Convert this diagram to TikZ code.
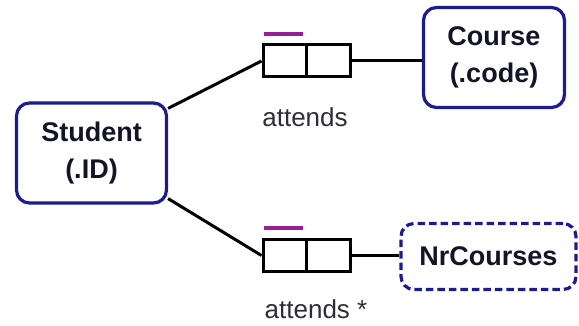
\documentclass[tikz,border=0pt]{standalone}
\usepackage{fontspec}
\setmainfont{Liberation Sans}
\begin{document}
\begin{tikzpicture}[x=1pt,y=-1pt,
  entity/.style={draw=entblue, line width=3.2pt, rounded corners=13pt, fill=white,
    align=center, font=\fontsize{27}{37}\selectfont\bfseries, text=entink, inner sep=0pt},
  derived/.style={entity, dashed, dash pattern=on 7.5pt off 4pt},
  relbox/.style={draw=black, line width=3pt, fill=white, minimum width=87pt, minimum height=32pt, inner sep=0pt},
  link/.style={draw=black, line width=3pt},
  bar/.style={draw=barpurple, line width=3.4pt},
  lbl/.style={font=\fontsize{26}{30}\selectfont, text=lblink, inner sep=0pt}]
\definecolor{entblue}{RGB}{28,28,140}
\definecolor{entink}{RGB}{20,20,40}
\definecolor{lblink}{RGB}{45,45,55}
\definecolor{barpurple}{RGB}{150,30,150}
\useasboundingbox (0,0) rectangle (579,326);

% entities
\node[entity, minimum width=150pt, minimum height=100pt] (stu) at (91.5,153) {Student\\(.ID)};
\node[entity, minimum width=141pt, minimum height=100pt] (crs) at (494,57.5) {Course\\(.code)};
\node[derived, minimum width=175pt, minimum height=66pt] (nrc) at (488.5,256.5) {NrCourses};

% upper relationship box, split in two halves
\node[relbox] (a) at (306.5,61) {};
\draw[link] (a.north) -- (a.south);
\node[lbl] (la) at (305,117) {attends};
\coordinate (ba) at (264,34);
\coordinate (bb) at (303,34);
\draw[bar] (ba) -- (bb);

% lower relationship box, split in two halves
\node[relbox] (b) at (306.5,255.5) {};
\draw[link] (b.north) -- (b.south);
\node[lbl] (lb) at (316,309) {attends *};
\coordinate (bc) at (264,228);
\coordinate (bd) at (303,228);
\draw[bar] (bc) -- (bd);

% connectors
\draw[link] ([yshift=-7pt]stu.north east) -- (a.west);
\draw[link] (a.east) -- (a.east -| crs.west);
\draw[link] ([yshift=6pt]stu.south east) -- (b.west);
\draw[link] (b.east) -- (b.east -| nrc.west);
\end{tikzpicture}
\end{document}
